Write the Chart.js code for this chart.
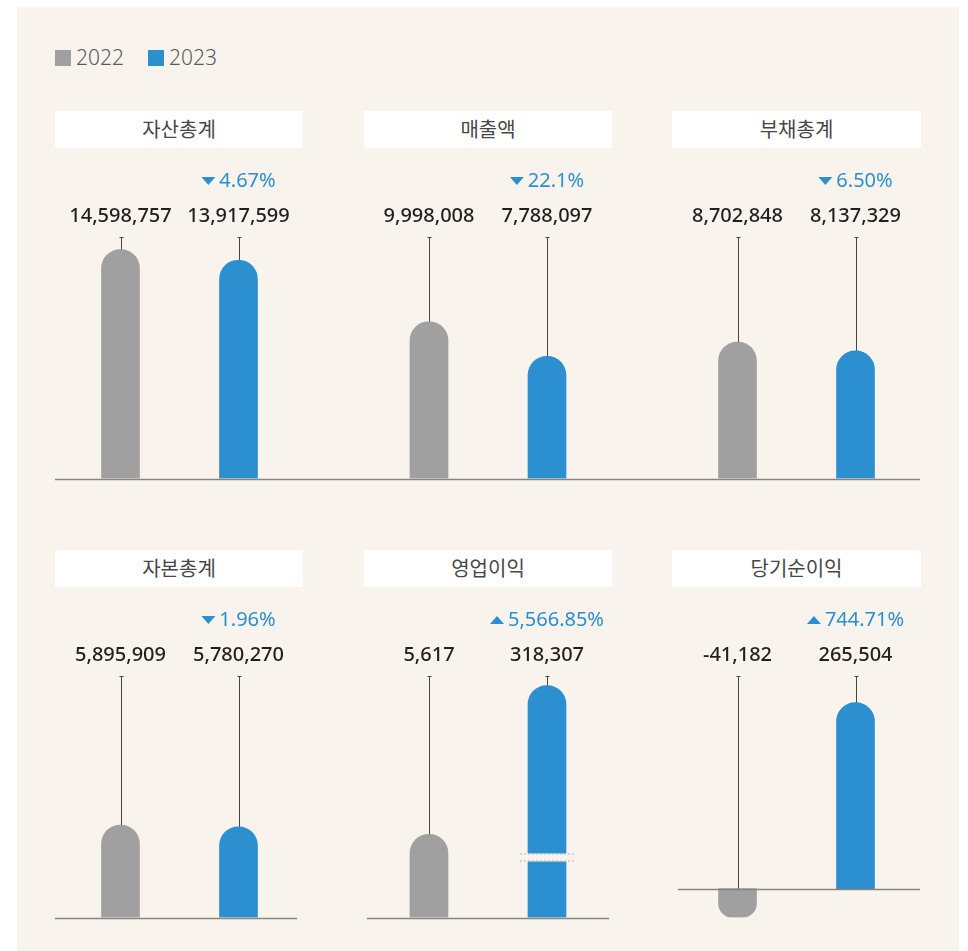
<!DOCTYPE html>
<html lang="ko">
<head>
<meta charset="utf-8">
<script src="https://cdn.jsdelivr.net/npm/chart.js@4"></script>
<style>
  body { margin: 0; background: #fff; width: 968px; height: 951px; overflow: hidden; }
  #board { position: absolute; left: 17px; top: 7px; width: 942px; height: 944px; background: #f8f4ed; }
  .legend { position: absolute; top: 43px; font: 300 21px "Noto Sans", sans-serif; color: #5a5a5a; }
  .legend span { display: inline-block; width: 16px; height: 16px; vertical-align: -1px; margin-right: 5px; }
  .title { position: absolute; height: 37px; line-height: 37px; background: #fff; text-align: center;
           font: 400 20px "Noto Sans CJK KR", sans-serif; color: #474747; }
  .title span { position: relative; top: 3px; }
  .box { position: absolute; }
</style>
</head>
<body>
<div id="board"></div>
<div class="legend" style="left:55px"><span style="background:#a0a0a0"></span>2022</div>
<div class="legend" style="left:148px"><span style="background:#2b8fd0"></span>2023</div>
<div id="holder"></div>
<script>
// data
const years = ['2022', '2023'];
const metrics = ['자산총계', '매출액', '부채총계', '자본총계', '영업이익', '당기순이익'];
const values2022 = [14598757, 9998008, 8702848, 5895909, 5617, -41182];
const values2023 = [13917599, 7788097, 8137329, 5780270, 318307, 265504];
const changePct = ['4.67%', '22.1%', '6.50%', '1.96%', '5,566.85%', '744.71%'];
const changeDir = ['down', 'down', 'down', 'down', 'up', 'up'];

const GRAY = '#a0a0a0';
const BLUE = '#2b8fd0';
const BG = '#f8f4ed';

// panel layout (page px)
const panels = [
  { left: 55, top: 160, w: 309, h: 340, titleTop: 111, pad: [6.5, 66.5], base: [0, 309], y: { min: 0, max: 15400000 } },
  { left: 364, top: 160, w: 308, h: 340, titleTop: 111, pad: [6, 66], base: [0, 308], y: { min: 0, max: 15400000 } },
  { left: 672, top: 160, w: 248, h: 340, titleTop: 111, pad: [6.5, 5.5], base: [0, 248], y: { min: 0, max: 15400000 } },
  { left: 55, top: 600, w: 309, h: 330, titleTop: 550, pad: [6.5, 66.5], base: [0, 242], y: { min: 0, max: 15400000 } },
  { left: 364, top: 600, w: 308, h: 330, titleTop: 550, pad: [6, 66], base: [3, 245], y: { type: 'logarithmic', min: 588, max: 412000 }, brk: true },
  { left: 672, top: 600, w: 248, h: 330, titleTop: 550, pad: [6.5, 5.5], base: [6, 248], y: { min: -41200, max: 303600 } }
];
const padTop = [77, 77, 77, 76, 76, 76];
const padBottom = [21.5, 21.5, 21.5, 12.5, 12.5, 12.5];

const fmt = v => v.toLocaleString('en-US');

const extras = {
  id: 'extras',
  afterDatasetsDraw(chart, args, opts) {
    const ctx = chart.ctx;
    const area = chart.chartArea;
    const bars = chart.getDatasetMeta(0).data;
    const ys = chart.scales.y;
    const vals = chart.data.datasets[0].data;
    ctx.save();

    // break marker on the tall bar
    if (opts.brk) {
      const b = bars[1];
      const y0 = b.base - 64, y1 = b.base - 56;
      ctx.fillStyle = BG;
      ctx.fillRect(b.x - 27, y0, 54, y1 - y0);
      ctx.strokeStyle = '#b8b4ae';
      ctx.lineWidth = 1;
      ctx.setLineDash([2, 2]);
      [y0 + 0.5, y1 - 0.5].forEach(yy => {
        ctx.beginPath(); ctx.moveTo(b.x - 27, yy); ctx.lineTo(b.x + 27, yy); ctx.stroke();
      });
      ctx.setLineDash([]);
    }

    // baseline
    const zy = Math.round(ys.getPixelForValue(0)) + 0.5;
    ctx.strokeStyle = '#8a8480';
    ctx.lineWidth = 1.6;
    ctx.beginPath(); ctx.moveTo(opts.base[0], zy); ctx.lineTo(opts.base[1], zy); ctx.stroke();

    // leader lines + value labels
    ctx.strokeStyle = '#4a4543';
    ctx.lineWidth = 1;
    ctx.font = '500 20px "Noto Sans", sans-serif';
    ctx.fillStyle = '#231f20';
    ctx.textAlign = 'center';
    ctx.textBaseline = 'middle';
    bars.forEach((b, i) => {
      const x = Math.round(b.x) + 0.5;
      const end = Math.min(b.y, b.base);
      ctx.beginPath(); ctx.moveTo(x, area.top); ctx.lineTo(x, end); ctx.stroke();
      ctx.beginPath(); ctx.moveTo(x - 2, area.top + 0.5); ctx.lineTo(x + 2, area.top + 0.5); ctx.stroke();
      ctx.fillText(fmt(vals[i]), b.x, area.top - 20.5);
    });

    // change percentage over 2023 bar
    ctx.font = '20px "Noto Sans", sans-serif';
    const txt = opts.pct;
    const tw = ctx.measureText(txt).width;
    const total = 14 + 4 + tw;
    const cx = bars[1].x;
    const sx = cx - total / 2;
    const py = area.top - 56;
    ctx.fillStyle = BLUE;
    ctx.beginPath();
    if (opts.dir === 'down') {
      ctx.moveTo(sx, py - 4); ctx.lineTo(sx + 14, py - 4); ctx.lineTo(sx + 7, py + 4);
    } else {
      ctx.moveTo(sx, py + 4); ctx.lineTo(sx + 14, py + 4); ctx.lineTo(sx + 7, py - 4);
    }
    ctx.closePath(); ctx.fill();
    ctx.textAlign = 'left';
    ctx.fillText(txt, sx + 18, py);
    ctx.restore();
  }
};

const holder = document.getElementById('holder');
panels.forEach((p, i) => {
  const t = document.createElement('div');
  t.className = 'title';
  t.style.left = p.left + 'px';
  t.style.top = p.titleTop + 'px';
  t.style.width = (i % 3 === 2 ? 249 : 248) + 'px';
  const s = document.createElement('span');
  s.textContent = metrics[i];
  t.appendChild(s);
  holder.appendChild(t);

  const box = document.createElement('div');
  box.className = 'box';
  box.style.left = p.left + 'px';
  box.style.top = p.top + 'px';
  box.style.width = p.w + 'px';
  box.style.height = p.h + 'px';
  const canvas = document.createElement('canvas');
  box.appendChild(canvas);
  holder.appendChild(box);

  new Chart(canvas.getContext('2d'), {
    type: 'bar',
    data: {
      labels: years,
      datasets: [{
        data: [values2022[i], values2023[i]],
        backgroundColor: [GRAY, BLUE],
        borderRadius: 19,
        borderSkipped: 'start',
        barThickness: 38
      }]
    },
    options: {
      responsive: true,
      maintainAspectRatio: false,
      animation: false,
      layout: { padding: { left: p.pad[0], right: p.pad[1], top: padTop[i], bottom: padBottom[i] } },
      scales: {
        x: { display: false },
        y: Object.assign({ display: false }, p.y)
      },
      plugins: {
        legend: { display: false },
        tooltip: { enabled: false },
        extras: { pct: changePct[i], dir: changeDir[i], base: p.base, brk: !!p.brk }
      }
    },
    plugins: [extras]
  });
});
</script>
</body>
</html>
